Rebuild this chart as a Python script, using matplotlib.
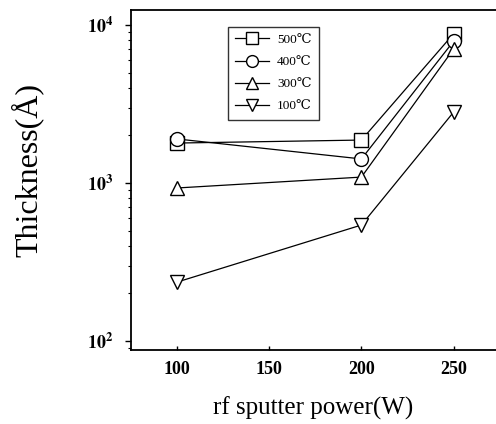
import matplotlib
matplotlib.use("Agg")
import matplotlib.pyplot as plt
from matplotlib.ticker import LogLocator, NullFormatter

power = [100, 200, 250]
t500 = [1790, 1870, 8800]
t400 = [1900, 1420, 7900]
t300 = [930, 1090, 7050]
t100 = [236, 542, 2810]
labels = ["500\u2103", "400\u2103", "300\u2103", "100\u2103"]
xticks = [100, 150, 200, 250]

plt.rcParams['font.family'] = ['Liberation Serif', 'DejaVu Serif']
plt.rcParams['mathtext.fontset'] = 'stix'

fig = plt.figure(figsize=(4.96, 4.24), dpi=100)
ax = fig.add_axes([131/496, 1-350/424, 365/496, 340/424])

series = [(t500, 's'), (t400, 'o'), (t300, '^'), (t100, 'v')]
for (vals, m), lab in zip(series, labels):
    ax.plot(power, vals, marker=m, color='black', lw=0.9, ms=10,
            mfc='white', mec='black', mew=1.0, label=lab)

ax.set_yscale('log')
ax.set_ylim(10**1.943, 10**4.095)
ax.set_xlim(75, 273)
ax.set_xticks(xticks)
ax.set_xticklabels([str(v) for v in xticks], fontweight='bold', fontsize=13)
ax.set_yticks([1e2, 1e3, 1e4])
ax.set_yticklabels([r'$\mathbf{10^{2}}$', r'$\mathbf{10^{3}}$', r'$\mathbf{10^{4}}$'], fontsize=13)
ax.yaxis.set_minor_locator(LogLocator(base=10, subs=range(2, 10)))
ax.yaxis.set_minor_formatter(NullFormatter())
ax.tick_params(axis='y', which='major', direction='out', length=4, width=1, pad=9)
ax.tick_params(axis='y', which='minor', direction='out', length=2.5, width=0.8)
ax.tick_params(axis='x', direction='in', length=3, width=1, pad=8)
ax.spines['right'].set_visible(False)
for s in ['left', 'top', 'bottom']:
    ax.spines[s].set_linewidth(1.3)

ax.set_xlabel('rf sputter power(W)', fontsize=18, labelpad=13)
ax.set_ylabel('Thickness(\u00c5)', fontsize=23)
ax.yaxis.set_label_coords(-(131-44)/365, (350-170)/340)

leg = ax.legend(loc='upper left', bbox_to_anchor=((221-131)/365, 1-(20-10)/340),
                fontsize=9.5, frameon=True, fancybox=False, edgecolor='black',
                handlelength=2.6, markerscale=0.85, borderpad=0.55, labelspacing=0.75,
                handletextpad=0.6)
leg.get_frame().set_linewidth(1.0)

fig.savefig('out.png', dpi=100)
